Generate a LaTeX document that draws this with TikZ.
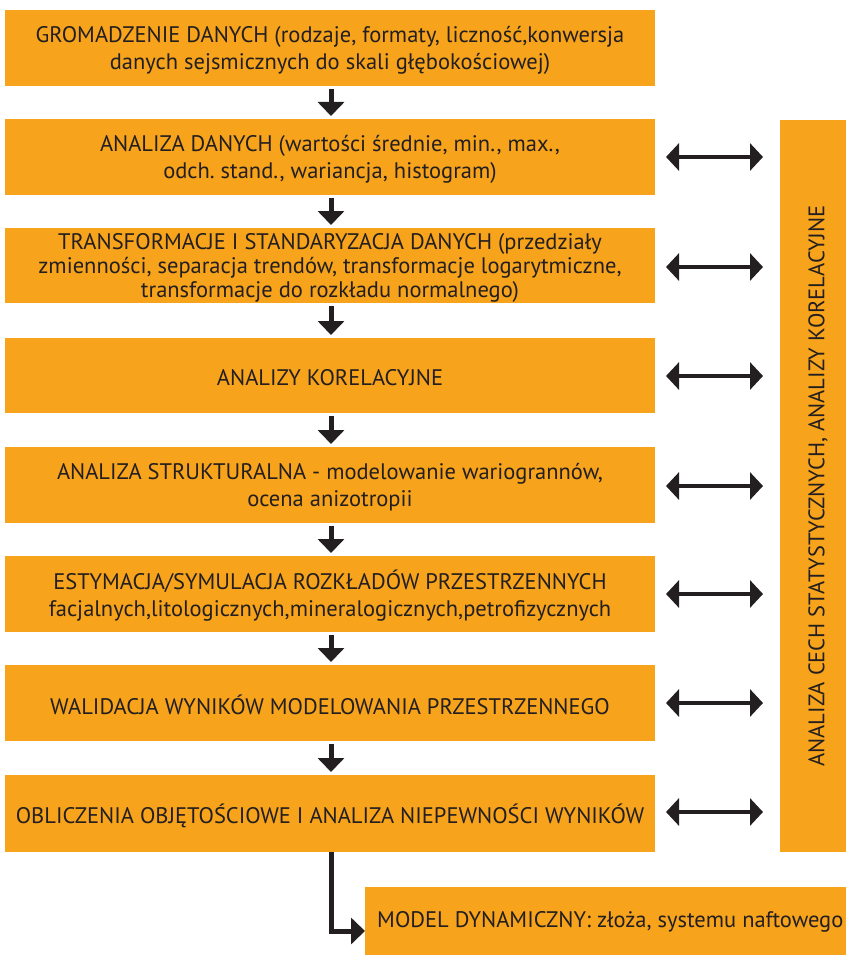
\documentclass[tikz,border=0pt]{standalone}
\usepackage{fontspec}
\setmainfont{PT Sans}
\frenchspacing
\usetikzlibrary{arrows.meta}
\definecolor{boxor}{RGB}{247,163,27}
\definecolor{ink}{RGB}{35,31,32}
\tikzset{
  box/.style={fill=boxor, draw=none, inner sep=0pt, text=ink, align=center,
    font=\fontsize{22.5}{27}\selectfont},
  down/.style={draw=ink, line width=5pt, -{Triangle[length=14pt,width=26pt]}},
  both/.style={draw=ink, line width=4.5pt, {Triangle[length=13pt,width=27pt]}-{Triangle[length=13pt,width=27pt]}},
}
\begin{document}
\begin{tikzpicture}[x=1pt,y=-1pt]
\useasboundingbox (0,0) rectangle (846,955);
% main column boxes
\newcommand{\mybox}[5][]{%
  \path[fill=boxor] (5,#3) rectangle (655,#4);
  \node[box,#1] (#2) at (330,{(#3+#4)/2+2}) {#5};
  \coordinate (#2t) at (331,#3);
  \coordinate (#2b) at (331,#4);
}
\mybox{b1}{10}{86}{GROMADZENIE DANYCH (rodzaje, formaty, liczność,konwersja\\danych sejsmicznych do skali głębokościowej)}
\mybox{b2}{119}{195}{ANALIZA DANYCH (wartości średnie, min., max.,\\odch. stand., wariancja, histogram)}
\mybox[font=\fontsize{22.5}{24}\selectfont]{b3}{228}{303}{TRANSFORMACJE I STANDARYZACJA DANYCH (przedziały\\zmienności, separacja trendów, transformacje logarytmiczne,\\transformacje do rozkładu normalnego)}
\mybox{b4}{338}{413}{ANALIZY KORELACYJNE}
\mybox{b5}{447}{523}{ANALIZA STRUKTURALNA - modelowanie wariogrannów,\\ocena anizotropii}
\mybox{b6}{556}{632}{ESTYMACJA/SYMULACJA ROZKŁADÓW PRZESTRZENNYCH\\facjalnych,litologicznych,mineralogicznych,petrofizycznych}
\mybox{b7}{665}{741}{WALIDACJA WYNIKÓW MODELOWANIA PRZESTRZENNEGO}
\mybox{b8}{775}{852}{OBLICZENIA OBJĘTOŚCIOWE I ANALIZA NIEPEWNOŚCI WYNIKÓW}
% right box
\path[fill=boxor] (780,120) rectangle (846,852);
\node[box, rotate=90] (r) at (818,486) {ANALIZA CECH STATYSTYCZNYCH, ANALIZY KORELACYJNE};
% bottom box
\path[fill=boxor] (365,887) rectangle (846,955);
\node[box, anchor=west] (m) at (377,922) {MODEL DYNAMICZNY: złoża, systemu naftowego};
\coordinate (mw) at (365,931);
% vertical arrows
\foreach \a/\b in {b1/b2,b2/b3,b3/b4,b4/b5,b5/b6,b6/b7,b7/b8}{
  \draw[down] ([yshift=-3pt]\a b) -- ([yshift=3pt]\b t);
}
% bottom connector
\draw[draw=ink, line width=5pt, -{Triangle[length=14pt,width=26pt]}] (b8b) |- (mw);
% double arrows
\foreach \y in {157,267,376,486,594,703,812}{
  \coordinate (L\y) at (666,\y);
  \coordinate (R\y) at (763,\y);
  \draw[both] (L\y) -- (R\y);
}
\end{tikzpicture}
\end{document}
